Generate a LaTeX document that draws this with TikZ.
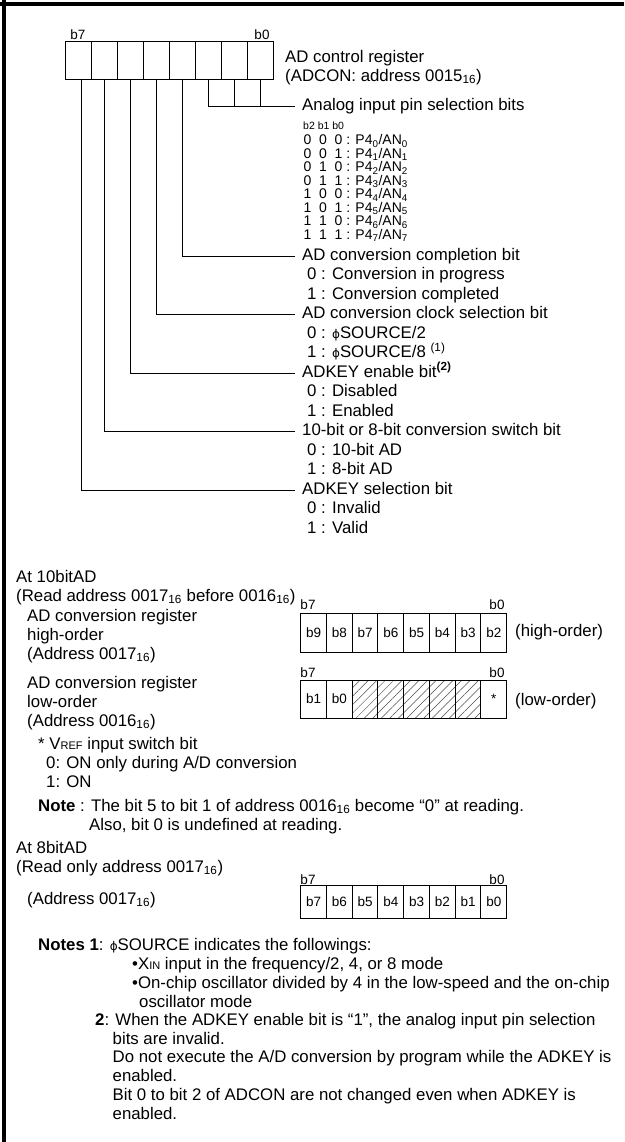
\documentclass[tikz,border=0pt]{standalone}
\usepackage{fontspec}
\setmainfont{Liberation Sans}
\newfontfamily\symfont{DejaVu Sans}
\usetikzlibrary{patterns.meta}
\newcommand\txtsz{\fontsize{16.8}{19}\selectfont}
\newcommand\rowsz{\fontsize{14}{16}\selectfont}
\newcommand\lblsz{\fontsize{13.5}{15}\selectfont}
\newcommand\tinysz{\fontsize{10.5}{12}\selectfont}
\newcommand\lownum[1]{\textsubscript{#1}}
\newcommand\smcap[1]{{\fontsize{11}{13}\selectfont #1}}
\newcommand\phisrc{{\symfont\fontsize{12}{14}\selectfont ϕ}SOURCE}
\tikzset{
  txt/.style     = {anchor=west, inner sep=0pt, text height=12pt, text depth=3.5pt, font=\txtsz},
  desc/.style    = {txt, inner xsep=7pt},
  rowtxt/.style  = {anchor=west, inner sep=0pt, font=\rowsz},
  regcell/.style = {draw, line width=1pt, minimum width=26pt, minimum height=38pt,
                    inner sep=0pt, font=\lblsz},
  hatch/.style   = {regcell, pattern={Lines[angle=45,distance=6pt,line width=0.5pt]},
                    pattern color=black!70},
  bitno/.style   = {inner sep=0pt, font=\lblsz},
  link/.style    = {line width=1pt},
}

\begin{document}
\begin{tikzpicture}[x=1pt, y=-1pt]
  \useasboundingbox (0,0) rectangle (624,1142);

  % -- frame (top and left only) --
  \draw[line width=4pt] (0,4) -- (624,4);
  \draw[line width=4pt] (4,0) -- (4,1142);

  % -- ADCON register --
  \node[bitno] (ab7) at (78,35) {b7};
  \node[bitno] (ab0) at (262,35) {b0};
  \foreach \i in {1,...,8}
    \node[regcell] (a\i) at ({65.7+26*(\i-0.5)},61) {};
  \node[txt] (adcon)  at (285,58) {AD control register};
  \node[txt] (adcon2) at (285,77) {(ADCON: address 0015\lownum{16})};

  % -- analog input pin selection --
  \node[desc] (ana) at (295,106.5) {Analog input pin selection bits};
  \draw[link] (a6.south) |- (ana.west);
  \draw[link] (a7.south) -- (a7.south |- ana.west);
  \draw[link] (a8.south) -- (a8.south |- ana.west);
  \node[anchor=west, inner sep=0pt, font=\tinysz] (bhead) at (303,126) {b2 b1 b0};
  \foreach \p/\q/\r [count=\k from 0] in {0/0/0,0/0/1,0/1/0,0/1/1,1/0/0,1/0/1,1/1/0,1/1/1}
    \node[rowtxt] (r\k) at (303.5,{141+13.5*\k})
      {\makebox[15.5pt][l]{\p}\makebox[15.5pt][l]{\q}\r{} : P4\lownum{\k}/AN\lownum{\k}};

  % -- bit descriptions --
  \node[desc] (hcomp)   at (295,256)   {AD conversion completion bit};
  \node[txt]  (s1)      at (307,275.5) {0 : Conversion in progress};
  \node[txt]  (s2)      at (307,295)   {1 : Conversion completed};
  \node[desc] (hclk)    at (295,314.5) {AD conversion clock selection bit};
  \node[txt]  (s3)      at (307,334)   {0 : \phisrc/2};
  \node[txt]  (s4)      at (307,353.5) {1 : \phisrc/8 \textsuperscript{(1)}};
  \node[desc] (hkeyen)  at (295,373)   {ADKEY enable bit\textsuperscript{\textbf{(2)}}};
  \node[txt]  (s5)      at (307,392.5) {0 : Disabled};
  \node[txt]  (s6)      at (307,412)   {1 : Enabled};
  \node[desc] (hsw)     at (295,431.5) {10-bit or 8-bit conversion switch bit};
  \node[txt]  (s7)      at (307,451)   {0 : 10-bit AD};
  \node[txt]  (s8)      at (307,470.5) {1 : 8-bit AD};
  \node[desc] (hkeysel) at (295,490)   {ADKEY selection bit};
  \node[txt]  (s9)      at (307,509.5) {0 : Invalid};
  \node[txt]  (s10)     at (307,529)   {1 : Valid};

  \draw[link] (a5.south) |- (hcomp.west);
  \draw[link] (a4.south) |- (hclk.west);
  \draw[link] (a3.south) |- (hkeyen.west);
  \draw[link] (a2.south) |- (hsw.west);
  \draw[link] ([xshift=2.5pt]a1.south) |- (hkeysel.west);

  % -- at 10bitAD --
  \node[txt] (at10) at (16,578) {At 10bitAD};
  \node[txt] (rd10) at (16,597) {(Read address 0017\lownum{16} before 0016\lownum{16})};

  \node[txt] (hreg1) at (27,617) {AD conversion register};
  \node[txt] (hreg2) at (27,636) {high-order};
  \node[txt] (hreg3) at (27,655) {(Address 0017\lownum{16})};
  \node[bitno] (hb7) at (308,605) {b7};
  \node[bitno] (hb0) at (497,605) {b0};
  \foreach \t [count=\i] in {b9,b8,b7,b6,b5,b4,b3,b2}
    \node[regcell, minimum width=25.75pt, minimum height=39pt]
      (h\i) at ({300.7+25.75*(\i-0.5)},632.5) {\t};
  \node[txt] (hord) at (515,632.5) {(high-order)};

  \node[txt] (lreg1) at (27,684) {AD conversion register};
  \node[txt] (lreg2) at (27,703) {low-order};
  \node[txt] (lreg3) at (27,722) {(Address 0016\lownum{16})};
  \node[bitno] (lb7) at (308,673) {b7};
  \node[bitno] (lb0) at (497,673) {b0};
  \node[regcell, minimum width=25.75pt] (l1) at ({300.7+25.75*0.5},699) {b1};
  \node[regcell, minimum width=25.75pt] (l2) at ({300.7+25.75*1.5},699) {b0};
  \foreach \i in {3,...,7}
    \node[hatch, minimum width=25.75pt] (l\i) at ({300.7+25.75*(\i-0.5)},699) {};
  \node[regcell, minimum width=25.75pt] (l8) at ({300.7+25.75*7.5},699) {*};
  \node[txt] (lord) at (515,701) {(low-order)};

  % -- Vref note --
  \node[txt] (vref)  at (38,745) {* V\smcap{REF} input switch bit};
  \node[txt] (vref0) at (46,764) {0: ON only during A/D conversion};
  \node[txt] (vref1) at (46,783) {1: ON};
  \node[txt] (note)  at (38,807) {\textbf{Note} : The bit 5 to bit 1 of address 0016\lownum{16} become “0” at reading.};
  \node[txt] (note2) at (89,826) {Also, bit 0 is undefined at reading.};

  % -- at 8bitAD --
  \node[txt] (at8) at (16,849) {At 8bitAD};
  \node[txt] (rd8) at (16,868) {(Read only address 0017\lownum{16})};
  \node[txt] (ereg) at (27,900) {(Address 0017\lownum{16})};
  \node[bitno] (eb7) at (308,880) {b7};
  \node[bitno] (eb0) at (497,880) {b0};
  \foreach \t [count=\i] in {b7,b6,b5,b4,b3,b2,b1,b0}
    \node[regcell, minimum width=25.75pt, minimum height=33pt]
      (e\i) at ({300.7+25.75*(\i-0.5)},902) {\t};

  % -- notes --
  \node[txt] (n1)  at (38,946)    {\textbf{Notes 1}: \phisrc{} indicates the followings:};
  \node[txt] (n1a) at (132,965)   {•X\smcap{IN} input in the frequency/2, 4, or 8 mode};
  \node[txt] (n1b) at (132,984)   {•On-chip oscillator divided by 4 in the low-speed and the on-chip};
  \node[txt] (n1c) at (139,1003)  {oscillator mode};
  \node[txt] (n2)  at (95,1021.5) {\textbf{2}: When the ADKEY enable bit is “1”, the analog input pin selection};
  \node[txt] (n2a) at (112.5,1040)  {bits are invalid.};
  \node[txt] (n2b) at (112.5,1058.5){Do not execute the A/D conversion by program while the ADKEY is};
  \node[txt] (n2c) at (112.5,1077)  {enabled.};
  \node[txt] (n2d) at (112.5,1096)  {Bit 0 to bit 2 of ADCON are not changed even when ADKEY is};
  \node[txt] (n2e) at (112.5,1115)  {enabled.};
\end{tikzpicture}
\end{document}
